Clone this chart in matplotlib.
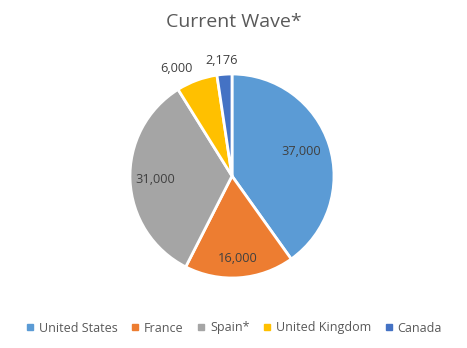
import matplotlib
matplotlib.use("Agg")
import matplotlib.pyplot as plt
from matplotlib.lines import Line2D
import numpy as np

categories = ["United States", "France", "Spain*", "United Kingdom", "Canada"]
values = [37000, 16000, 31000, 6000, 2176]
labels = ["37,000", "16,000", "31,000", "6,000", "2,176"]
colors = ["#5B9BD5", "#ED7D31", "#A5A5A5", "#FFC000", "#4472C4"]

plt.rcParams['font.family'] = ['Open Sans', 'DejaVu Sans']

W, H = 467, 348
fig = plt.figure(figsize=(W/100, H/100), dpi=100)
cx, cy, R = 232, 176, 102
ax = fig.add_axes([(cx-R)/W, (H-cy-R)/H, 2*R/W, 2*R/H])

wedges, _ = ax.pie(values, colors=colors, startangle=90, counterclock=False,
                   wedgeprops=dict(edgecolor="white", linewidth=2))
ax.set_xlim(-1, 1)
ax.set_ylim(-1, 1)
ax.set_aspect('equal')
ax.axis('off')

# label placement (radius factor, angle offset in degrees)
place = [(0.72, 2), (0.81, 0), (0.75, 0), (1.19, 7), (1.14, 1)]
total = sum(values)
start = 90.0
for v, lab, (rf, off) in zip(values, labels, place):
    span = v / total * 360
    mid = start - span / 2
    start -= span
    a = np.deg2rad(mid + off)
    ax.text(rf*np.cos(a), rf*np.sin(a), lab, ha='center', va='center',
            fontsize=9.2, color='#404040', clip_on=False)

fig.text(0.5, 1 - 22/H, "Current Wave*", ha='center', va='center',
         fontsize=14, color='#595959')

handles = [Line2D([], [], marker='s', linestyle='none', markersize=5,
                  markerfacecolor=c, markeredgecolor=c) for c in colors]
fig.legend(handles, categories, loc='center', bbox_to_anchor=(0.5, 1 - 328/H),
           ncol=5, frameon=False, fontsize=9, labelcolor='#595959',
           handlelength=0.8, handletextpad=0.3, columnspacing=1.0)

fig.savefig("out.png", dpi=100, facecolor='white')
